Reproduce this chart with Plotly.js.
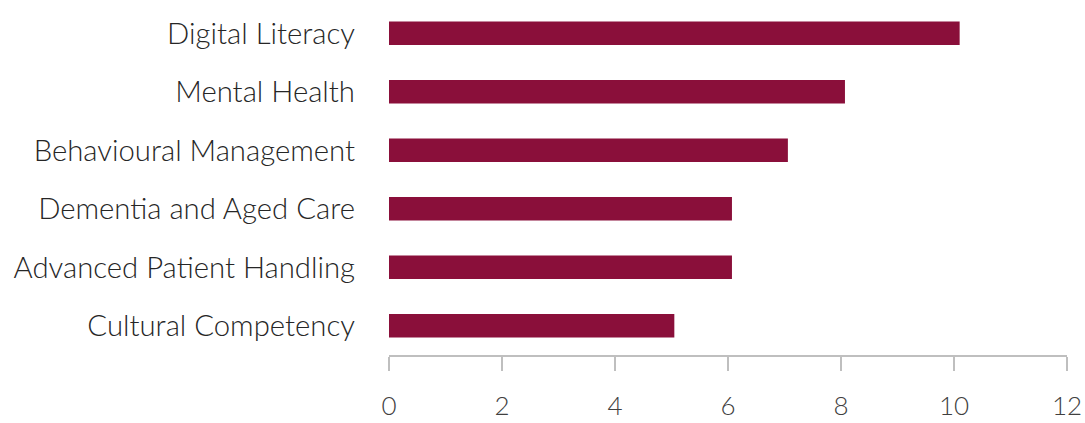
<!DOCTYPE html>
<html>
<head>
<meta charset="utf-8">
<script src="https://cdn.plot.ly/plotly-3.0.1.min.js"></script>
<style>html,body{margin:0;padding:0;background:#fff;}#chart{width:1085px;height:423px;}</style>
</head>
<body>
<div id="chart"></div>
<script>
var categories = ["Cultural Competency", "Advanced Patient Handling", "Dementia and Aged Care", "Behavioural Management", "Mental Health", "Digital Literacy"];
var values = [5.05, 6.07, 6.07, 7.06, 8.07, 10.1];
var tickVals = [0, 2, 4, 6, 8, 10, 12];

var trace = {
  type: "bar",
  orientation: "h",
  y: categories,
  x: values,
  width: 0.4,
  marker: {color: "#8A0F3A"},
  hoverinfo: "x+y"
};

var layout = {
  width: 1085,
  height: 423,
  margin: {l: 389, r: 18, t: 4, b: 68},
  paper_bgcolor: "#fff",
  plot_bgcolor: "#fff",
  showlegend: false,
  font: {family: "Lato, 'Open Sans', sans-serif", color: "#333", weight: 300},
  xaxis: {
    range: [0, 12],
    tickvals: tickVals,
    ticktext: tickVals.map(String),
    showgrid: false,
    zeroline: false,
    showline: true,
    linecolor: "#bfbfbf",
    linewidth: 1.5,
    ticks: "outside",
    ticklen: 14,
    tickcolor: "#bfbfbf",
    tickwidth: 1.5,
    tickfont: {size: 26, color: "#404040", weight: 300},
    ticklabelstandoff: 13
  },
  yaxis: {
    range: [-0.5, 5.5],
    showgrid: false,
    zeroline: false,
    showline: false,
    ticks: "",
    tickfont: {size: 29.3, color: "#262626", weight: 300},
    ticklabelstandoff: 33
  }
};

Plotly.newPlot("chart", [trace], layout, {displayModeBar: false, staticPlot: true});
</script>
</body>
</html>
